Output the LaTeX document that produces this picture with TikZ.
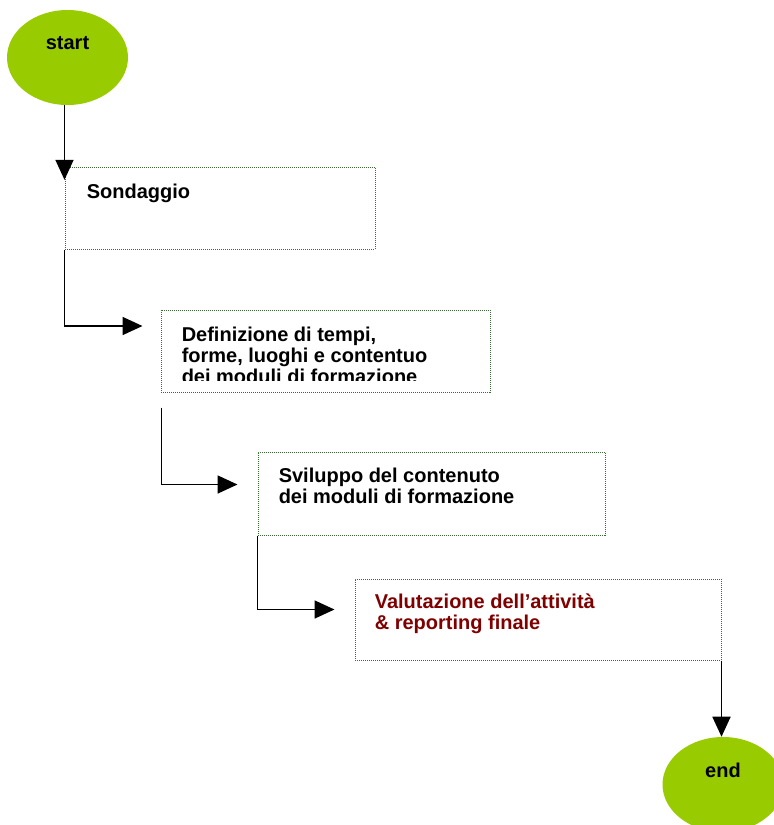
\documentclass[tikz,border=0pt]{standalone}
\usepackage{fontspec}
\setmainfont{Liberation Sans}
\usetikzlibrary{arrows.meta,positioning,shapes.geometric,calc}
\definecolor{termgreen}{HTML}{99CC00}
\definecolor{boxedge}{HTML}{3A6B34}
\definecolor{darkred}{HTML}{800000}
\newcommand{\boxfont}{\fontsize{15pt}{16pt}\selectfont\bfseries}

\begin{document}
\begin{tikzpicture}[
  x=0.75pt,y=-0.75pt,
  term/.style={ellipse,fill=termgreen,draw=none,minimum width=90.75pt,minimum height=71.25pt,inner sep=0pt},
  termtxt/.style={inner sep=0pt,font=\boxfont},
  stepbox/.style={draw=boxedge,line width=0.75pt,dash pattern=on 0.75pt off 0.75pt,inner sep=0pt},
  boxtxt/.style={anchor=north west,inner sep=0pt,align=left,font=\boxfont},
  arr/.style={-{Triangle[length=15pt,width=13.5pt]},line width=1.3pt}
]
\useasboundingbox (0,0) rectangle (774,825);
\clip (0,0) rectangle (774,825);

% start and end
\node[term] (start) at (67.5,57.5) {};
\node[termtxt] (starttxt) at ([yshift=10.5pt]start.center) {start};
\node[term] (end) at (723,784.5) {};
\node[termtxt] (endtxt) at ([yshift=10.5pt]end.center) {end};

% the four steps
\node[stepbox,minimum width=232.5pt,minimum height=61.5pt]  (sond) at (220,208) {};
\node[stepbox,minimum width=246.75pt,minimum height=61.5pt] (defin) at (325.5,351) {};
\node[stepbox,minimum width=260.25pt,minimum height=62.25pt] (svil) at (431.5,493.5) {};
\node[stepbox,minimum width=274.5pt,minimum height=60.75pt] (valut) at (538,619.5) {};

\node[boxtxt] (sondtxt) at ($(sond.north west)+(22,17)$) {Sondaggio};
% last line is cut off by the box margin
\begin{scope}
  \clip (defin.north west) rectangle ($(defin.south east)+(0,-12)$);
  \node[boxtxt] (defintxt) at ($(defin.north west)+(21,17)$) {Definizione di tempi,\\forme, luoghi e contentuo\\dei moduli di formazione};
\end{scope}
\node[boxtxt] (sviltxt) at ($(svil.north west)+(21,16)$) {Sviluppo del contenuto\\dei moduli di formazione};
\node[boxtxt,text=darkred] (valuttxt) at ($(valut.north west)+(20,15)$) {Valutazione dell’attività\\\& reporting finale};

% connectors
\draw[arr] (start.south -| sond.west) -- ([yshift=-10pt]sond.north west);
\draw[arr] (sond.south west) |- ($(defin.west)+(-18,-25)$);
\draw[arr] ($(defin.south west)+(1,15)$) |- ($(svil.west)+(-20,-9)$);
\draw[arr] (svil.south west) |- ($(valut.west)+(-20,-10)$);
\draw[arr] (valut.south east) -- (valut.south east |- end.north);

\end{tikzpicture}
\end{document}
